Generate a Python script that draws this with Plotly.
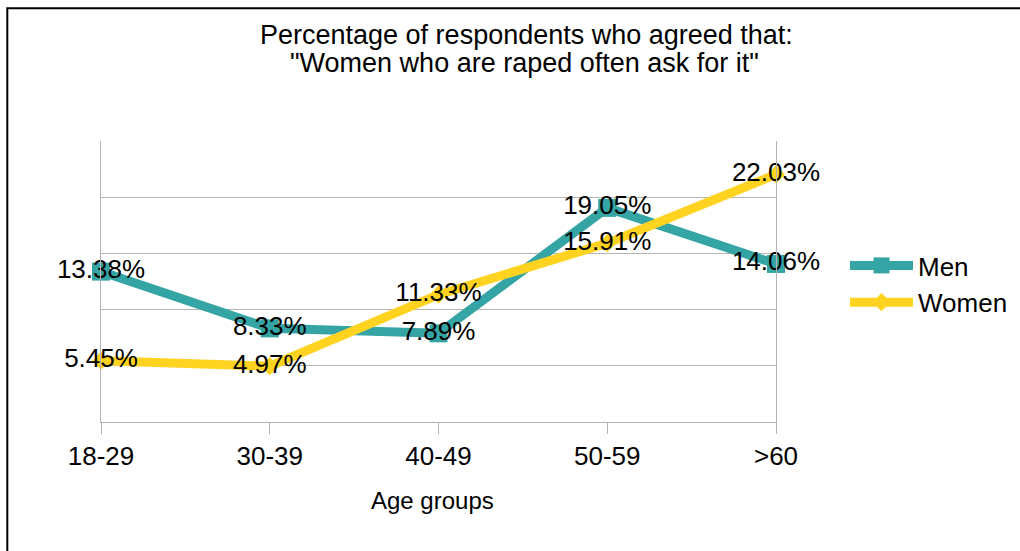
import plotly.graph_objects as go

categories = ["18-29", "30-39", "40-49", "50-59", ">60"]
men = [13.38, 8.33, 7.89, 19.05, 14.06]
women = [5.45, 4.97, 11.33, 15.91, 22.03]
men_labels = [f"{v:.2f}%" for v in men]
women_labels = [f"{v:.2f}%" for v in women]
title_lines = ["Percentage of respondents who agreed that:",
               "\"Women who are raped often ask for it\""]

TEAL = "#35a4a4"
YELLOW = "#ffd320"
GRID = "#b3b3b3"
FONT = "Liberation Sans, Arial, sans-serif"
FS = 26
TFS = 27

W, H = 1020, 551
L, R, T, B = 101, 244, 141, 129
PW, PH = W - L - R, H - T - B


def px_x(px):
    return (px - L) / PW


def px_y(py):
    return (H - B - py) / PH


fig = go.Figure()
fig.add_trace(go.Scatter(
    x=categories, y=men, name="Men", mode="lines+markers",
    line=dict(color=TEAL, width=9),
    marker=dict(symbol="square", size=18, color=TEAL),
    cliponaxis=False,
))
fig.add_trace(go.Scatter(
    x=categories, y=women, name="Women", mode="lines+markers",
    line=dict(color=YELLOW, width=9),
    marker=dict(symbol="diamond", size=14, color=YELLOW),
    cliponaxis=False,
))
fig.add_trace(go.Scatter(
    x=categories, y=men, mode="text", text=men_labels,
    textposition="middle center", showlegend=False, hoverinfo="skip",
    textfont=dict(family=FONT, size=FS, color="black"), cliponaxis=False,
))
fig.add_trace(go.Scatter(
    x=categories, y=women, mode="text", text=women_labels,
    textposition="middle center", showlegend=False, hoverinfo="skip",
    textfont=dict(family=FONT, size=FS, color="black"), cliponaxis=False,
))

annotations = [dict(
    text="Age groups", xref="paper", yref="paper",
    x=px_x(432), y=px_y(500), xanchor="center", yanchor="middle",
    showarrow=False, font=dict(family=FONT, size=24, color="black"),
)]
for line_text, cx, cy in zip(title_lines, [526, 524], [35, 63]):
    annotations.append(dict(
        text=line_text, xref="paper", yref="paper",
        x=px_x(cx), y=px_y(cy), xanchor="center", yanchor="middle",
        showarrow=False, font=dict(family=FONT, size=TFS, color="black"),
    ))

fig.update_layout(
    width=W, height=H,
    margin=dict(l=L, r=R, t=T, b=B, pad=0, autoexpand=False),
    paper_bgcolor="white", plot_bgcolor="white",
    font=dict(family=FONT, size=FS, color="black"),
    xaxis=dict(
        type="category", range=[0, 4], showgrid=False,
        showline=True, linecolor=GRID, linewidth=1,
        ticks="outside", ticklen=11, tickcolor=GRID, tickwidth=1,
        tickfont=dict(family=FONT, size=FS, color="black"),
        ticklabelstandoff=0,
    ),
    yaxis=dict(
        range=[0, 25], dtick=5, showticklabels=False,
        showgrid=True, gridcolor=GRID, gridwidth=1,
        showline=True, mirror=True, linecolor=GRID, linewidth=1,
        zeroline=False, ticks="",
    ),
    legend=dict(
        x=px_x(845), xanchor="left", y=px_y(284), yanchor="middle",
        itemwidth=63, font=dict(family=FONT, size=FS, color="black"),
        bgcolor="rgba(0,0,0,0)", borderwidth=0,
    ),
    annotations=annotations,
    shapes=[dict(
        type="rect", xref="paper", yref="paper",
        x0=px_x(7.3), y0=px_y(570), x1=px_x(1035), y1=px_y(8.3),
        line=dict(color="black", width=2), fillcolor="rgba(0,0,0,0)",
        layer="above",
    )],
)

fig.write_html(
    "out.html",
    config={"displayModeBar": False},
    post_script="document.body.style.margin='0';document.body.style.overflow='hidden';",
)
